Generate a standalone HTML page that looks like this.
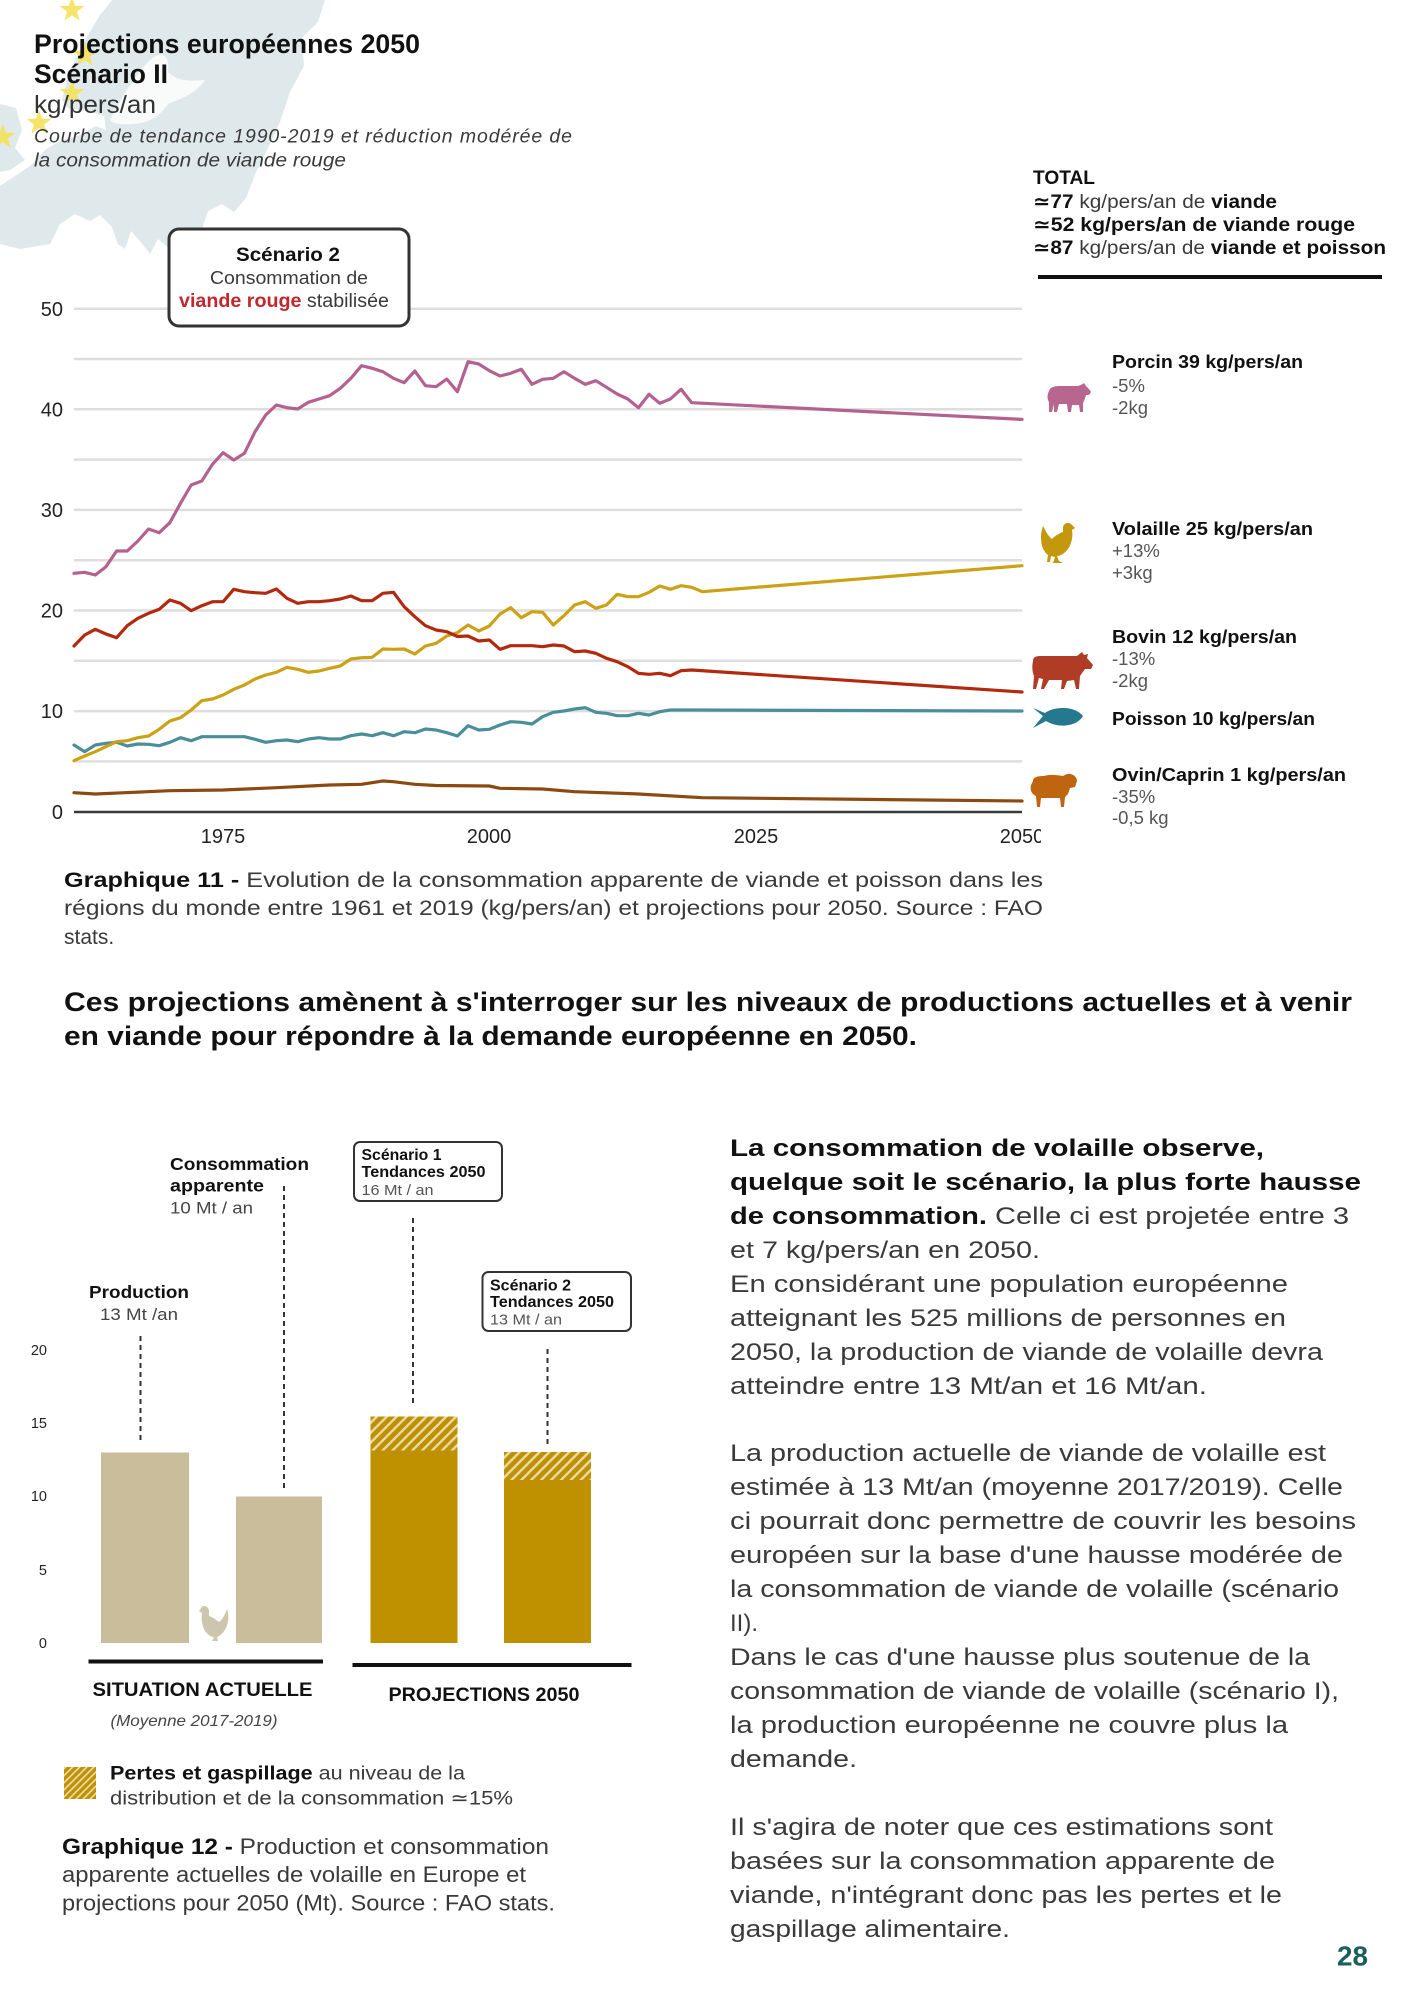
<!DOCTYPE html>
<html><head><meta charset="utf-8"><style>
html,body{margin:0;padding:0;background:#fff;}
svg{display:block;}
</style></head><body>
<svg xmlns="http://www.w3.org/2000/svg" width="1414" height="2000" viewBox="0 0 1414 2000" font-family="'Liberation Sans','DejaVu Sans',sans-serif">
<defs>
<polygon id="star" points="0,-13 3.12,-4.29 12.36,-4.02 5.04,1.64 7.64,10.52 0,5.3 -7.64,10.52 -5.04,1.64 -12.36,-4.02 -3.12,-4.29"/>
<pattern id="hatch" patternUnits="userSpaceOnUse" width="7" height="7" patternTransform="rotate(45)"><rect width="7" height="7" fill="#bf9000"/><rect x="0" y="0" width="2.4" height="7" fill="#eadba6"/></pattern>
<pattern id="hatch2" patternUnits="userSpaceOnUse" width="5" height="5" patternTransform="rotate(45)"><rect width="5" height="5" fill="#bf9000"/><rect x="0" y="0" width="1.7" height="5" fill="#eadba6"/></pattern>
<clipPath id="axclip"><rect x="0" y="820" width="1041" height="40"/></clipPath>
</defs>

<!-- Europe map background -->
<g fill="#dfe9ec">
<path d="M62,100 L70,70 L85,40 L100,15 L112,0 L325,0 L318,22 L302,38 L304,66 L290,92 L280,122 L268,148 L256,172 L246,198 L234,212 L222,204 L208,211 L202,229 L194,243 L182,235 L170,249 L158,239 L150,254 L140,241 L131,231 L125,249 L118,244 L112,227 L100,215 L90,221 L75,214 L60,224 L50,244 L20,249 L0,244 L0,186 L15,176 L30,166 L45,150 L60,141 L80,135 L96,126 L106,130 L104,116 L92,112 L80,110 L68,108 Z"/>
<path d="M0,104 L16,108 L22,130 L15,148 L25,160 L10,170 L0,172 Z"/>
</g>
<path d="M110,120 C120,100 133,78 148,62 C160,50 170,52 168,72 C180,84 196,80 205,80 C196,94 178,100 168,104 C160,116 148,124 132,124 C122,125 114,124 110,120 Z" fill="#ffffff" opacity="0.8"/>
<g fill="#f4e25a" opacity="0.9">
<use href="#star" x="72" y="10"/>
<use href="#star" x="85" y="55"/>
<use href="#star" x="72" y="93"/>
<use href="#star" x="39" y="123"/>
<use href="#star" x="3" y="137"/>
</g>

<!-- Title block -->
<text x="34" y="53" font-size="26.5" font-weight="700" fill="#111" textLength="386" lengthAdjust="spacingAndGlyphs">Projections européennes 2050</text>
<text x="34" y="83" font-size="26.5" font-weight="700" fill="#111" textLength="134" lengthAdjust="spacingAndGlyphs">Scénario II</text>
<text x="34" y="113" font-size="25" fill="#333" textLength="122" lengthAdjust="spacingAndGlyphs">kg/pers/an</text>
<text x="34" y="142.5" font-size="19.5" font-style="italic" fill="#3a3a3a" textLength="538" lengthAdjust="spacing">Courbe de tendance 1990-2019 et réduction modérée de</text>
<text x="34" y="166.5" font-size="19.5" font-style="italic" fill="#3a3a3a" textLength="312" lengthAdjust="spacingAndGlyphs">la consommation de viande rouge</text>

<!-- Chart 1 gridlines -->
<g stroke="#dedede" stroke-width="2.5">
<line x1="74" y1="308.7" x2="1022" y2="308.7"/>
<line x1="74" y1="359" x2="1022" y2="359"/>
<line x1="74" y1="409.3" x2="1022" y2="409.3"/>
<line x1="74" y1="459.6" x2="1022" y2="459.6"/>
<line x1="74" y1="509.9" x2="1022" y2="509.9"/>
<line x1="74" y1="560.2" x2="1022" y2="560.2"/>
<line x1="74" y1="610.5" x2="1022" y2="610.5"/>
<line x1="74" y1="660.8" x2="1022" y2="660.8"/>
<line x1="74" y1="711.1" x2="1022" y2="711.1"/>
<line x1="74" y1="761.4" x2="1022" y2="761.4"/>
</g>
<line x1="74" y1="812" x2="1022" y2="812" stroke="#3a3a3a" stroke-width="2.5"/>

<!-- Y labels -->
<g font-family="'Liberation Sans Narrow','Liberation Sans',sans-serif" font-size="20" fill="#222" text-anchor="end">
<text x="63" y="316">50</text>
<text x="63" y="416.5">40</text>
<text x="63" y="517">30</text>
<text x="63" y="617.5">20</text>
<text x="63" y="718">10</text>
<text x="63" y="819">0</text>
</g>
<!-- X labels -->
<g font-family="'Liberation Sans Narrow','Liberation Sans',sans-serif" font-size="20" fill="#222" text-anchor="middle" clip-path="url(#axclip)">
<text x="223" y="843">1975</text>
<text x="489" y="843">2000</text>
<text x="756" y="843">2025</text>
<text x="1022" y="843">2050</text>
</g>

<!-- Series -->
<g fill="none" stroke-width="3.2" stroke-linejoin="round" stroke-linecap="round">
<polyline stroke="#8a4a12" points="74,792.7 95.3,794 169.85,790.7 223.1,790 276.35,787.7 329.6,785 361.55,784.3 382.85,781 393.5,781.7 414.8,784.3 436.1,785.5 489.35,786 500,788.3 542.6,789 574.55,791.7 638.45,794 702.35,797.7 1022,801"/>
<polyline stroke="#4a8d9b" points="74,745 84.65,751.7 95.3,745 105.95,743.3 116.6,742.3 127.25,746 137.9,744 148.55,744.3 159.2,745.7 169.85,742.3 180.5,737.7 191.15,740.7 201.8,736.7 212.45,736.7 223.1,736.7 233.75,736.7 244.4,736.7 255.05,739.3 265.7,742.3 276.35,740.7 287,740 297.65,741.7 308.3,739 318.95,737.7 329.6,739 340.25,739 350.9,735.7 361.55,734 372.2,735.7 382.85,732.7 393.5,735.7 404.15,731.7 414.8,732.7 425.45,729 436.1,730 446.75,732.7 457.4,736 468.05,725.7 478.7,730 489.35,729.3 500,725 510.65,721.7 521.3,722.3 531.95,724 542.6,716.7 553.25,712.3 563.9,711 574.55,709 585.2,707.7 595.85,712.3 606.5,713.3 617.15,715.7 627.8,715.7 638.45,713.3 649.1,715 659.75,711.7 670.4,710 681.05,710 691.7,710 1022,711"/>
<polyline stroke="#cba215" points="74,760.7 84.65,756 95.3,751.7 105.95,746.7 116.6,741.7 127.25,740.7 137.9,737.7 148.55,736 159.2,729.3 169.85,721 180.5,717.7 191.15,710 201.8,700.7 212.45,699 223.1,695 233.75,689.3 244.4,685 255.05,679 265.7,675 276.35,672.3 287,667.3 297.65,669.3 308.3,672.3 318.95,671 329.6,668.3 340.25,666 350.9,659 361.55,657.7 372.2,657.3 382.85,649 393.5,649.3 404.15,649 414.8,654 425.45,646 436.1,643.3 446.75,636 457.4,632.7 468.05,625 478.7,631 489.35,626 500,614 510.65,607.7 521.3,617.7 531.95,611.7 542.6,612.3 553.25,625 563.9,615.7 574.55,605 585.2,601.7 595.85,608.3 606.5,605 617.15,594.3 627.8,596.7 638.45,596.7 649.1,592.3 659.75,586 670.4,589.3 681.05,585.7 691.7,587.3 702.35,591.7 1022,565.7"/>
<polyline stroke="#b3290e" points="74,646 84.65,635 95.3,629.3 105.95,634 116.6,637.7 127.25,625.7 137.9,618.3 148.55,613.3 159.2,609.3 169.85,600 180.5,603.3 191.15,610.7 201.8,605.7 212.45,601.7 223.1,601.7 233.75,589.3 244.4,591.7 255.05,592.7 265.7,593.3 276.35,589 287,598.3 297.65,603.3 308.3,601.7 318.95,601.7 329.6,600.7 340.25,599 350.9,596 361.55,600.7 372.2,600.7 382.85,593.3 393.5,592.3 404.15,606.7 414.8,616.7 425.45,625.7 436.1,630 446.75,631.7 457.4,636.5 468.05,636 478.7,641 489.35,640 500,649.3 510.65,645.7 521.3,645.7 531.95,645.7 542.6,646.7 553.25,645 563.9,646 574.55,651.7 585.2,651 595.85,653.3 606.5,658.3 617.15,661.7 627.8,666.7 638.45,673.3 649.1,674.3 659.75,673.3 670.4,675.7 681.05,670.7 691.7,670 1022,692"/>
<polyline stroke="#b4618f" points="74,573.3 84.65,572.3 95.3,575 105.95,566.7 116.6,551 127.25,551 137.9,541 148.55,529 159.2,532.7 169.85,522.7 180.5,503.3 191.15,485 201.8,481 212.45,464.3 223.1,452.7 233.75,460 244.4,453.3 255.05,431.7 265.7,415 276.35,405 287,407.7 297.65,409 308.3,402.3 318.95,399 329.6,395.7 340.25,388.3 350.9,378.3 361.55,365.7 372.2,368.3 382.85,371.7 393.5,378.3 404.15,382.7 414.8,371 425.45,385.7 436.1,386.7 446.75,379 457.4,391.7 468.05,361.7 478.7,364 489.35,370.7 500,376 510.65,373.3 521.3,369.3 531.95,384.3 542.6,379.3 553.25,378.3 563.9,371.7 574.55,378.3 585.2,384.3 595.85,380.7 606.5,387.3 617.15,394 627.8,399 638.45,407.7 649.1,394.3 659.75,403.3 670.4,399 681.05,389.3 691.7,402.7 1022,419.4"/>
</g>

<!-- Scenario 2 box -->
<rect x="169" y="229" width="240" height="97" rx="10" ry="10" fill="#fff" stroke="#333" stroke-width="3"/>
<text x="288" y="261" font-size="19" font-weight="700" fill="#111" text-anchor="middle" textLength="104" lengthAdjust="spacingAndGlyphs">Scénario 2</text>
<text x="289" y="284" font-size="18.5" fill="#3a3a3a" text-anchor="middle" textLength="158" lengthAdjust="spacingAndGlyphs">Consommation de</text>
<text x="179" y="307" font-size="19" fill="#3a3a3a" textLength="210" lengthAdjust="spacingAndGlyphs"><tspan font-weight="700" fill="#c0282d">viande rouge</tspan> stabilisée</text>

<!-- TOTAL block -->
<text x="1033" y="184" font-size="19.5" font-weight="700" fill="#111" textLength="62" lengthAdjust="spacingAndGlyphs">TOTAL</text>
<text x="1033" y="208" font-size="19.5" fill="#3a3a3a" textLength="244" lengthAdjust="spacingAndGlyphs"><tspan font-weight="700" fill="#111">≃77</tspan> kg/pers/an de <tspan font-weight="700" fill="#111">viande</tspan></text>
<text x="1033" y="231" font-size="19.5" font-weight="700" fill="#111" textLength="322" lengthAdjust="spacingAndGlyphs">≃52 kg/pers/an de viande rouge</text>
<text x="1033" y="254" font-size="19.5" fill="#3a3a3a" textLength="353" lengthAdjust="spacingAndGlyphs"><tspan font-weight="700" fill="#111">≃87</tspan> kg/pers/an de <tspan font-weight="700" fill="#111">viande et poisson</tspan></text>
<line x1="1038" y1="277" x2="1382" y2="277" stroke="#111" stroke-width="4"/>

<!-- Legend icons -->
<path fill="#b8668f" d="M1049,391 C1050,387 1055,386 1060,386 L1078,386 C1081,385 1083,384 1084,383 L1086,386 C1088,388 1090,390 1091,392 L1089,395 L1086,395 C1085,399 1084,401 1083,403 L1083,412 L1080,412 L1079,405 L1072,405 L1071,412 L1068,412 L1067,404 L1059,404 L1057,412 L1054,412 L1054,404 L1052,412 L1049,412 L1049,402 C1047,399 1047,395 1049,391 Z"/>
<path fill="#c4980c" d="M1043,526 C1046,532 1049,537 1052,539 C1056,535 1060,533 1063,532 L1063,527 C1064,523 1068,522 1071,524 L1075,528 L1072,530 C1073,536 1072,543 1068,549 C1064,554 1060,556 1057,556 L1059,561 L1063,563 L1053,563 L1055,557 L1051,556 L1050,562 L1047,562 L1048,555 C1044,552 1041,546 1041,538 C1041,533 1042,529 1043,526 Z"/>
<path fill="#b03c26" d="M1033,661 C1033,657 1036,656 1041,656 L1077,656 L1082,652 L1084,655 L1088,654 L1087,658 L1093,665 L1091,669 L1085,669 L1080,676 L1079,689 L1076,689 L1074,680 L1067,681 L1064,689 L1061,689 L1062,680 L1049,680 L1044,689 L1041,689 L1043,679 L1039,678 L1036,689 L1033,689 L1034,676 C1032,671 1032,666 1033,661 Z"/>
<path fill="#24788f" d="M1033,708 L1043,716 L1033,728 L1046,721 C1056,727 1068,727 1077,722 C1080,720 1082,718 1083,716 C1079,711 1072,708 1063,708 C1055,708 1049,710 1045,713 Z"/>
<path fill="#c0650f" d="M1033,781 C1033,777 1038,776 1044,776 C1050,774 1057,775 1063,776 L1067,774 C1073,773 1077,777 1077,781 L1075,787 L1070,788 L1068,794 L1065,797 L1064,807 L1061,807 L1060,798 L1041,798 L1040,807 L1037,807 L1036,796 C1031,794 1030,789 1031,785 Z"/>

<!-- Legend texts -->
<g font-size="18.5">
<text x="1112" y="368" font-weight="700" fill="#111" textLength="191" lengthAdjust="spacingAndGlyphs">Porcin 39 kg/pers/an</text>
<text x="1112" y="392" fill="#555">-5%</text>
<text x="1112" y="414" fill="#555">-2kg</text>
<text x="1112" y="535" font-weight="700" fill="#111" textLength="201" lengthAdjust="spacingAndGlyphs">Volaille 25 kg/pers/an</text>
<text x="1112" y="557" fill="#555">+13%</text>
<text x="1112" y="579" fill="#555">+3kg</text>
<text x="1112" y="643" font-weight="700" fill="#111" textLength="185" lengthAdjust="spacingAndGlyphs">Bovin 12 kg/pers/an</text>
<text x="1112" y="665" fill="#555">-13%</text>
<text x="1112" y="687" fill="#555">-2kg</text>
<text x="1112" y="725" font-weight="700" fill="#111" textLength="203" lengthAdjust="spacingAndGlyphs">Poisson 10 kg/pers/an</text>
<text x="1112" y="781" font-weight="700" fill="#111" textLength="234" lengthAdjust="spacingAndGlyphs">Ovin/Caprin 1 kg/pers/an</text>
<text x="1112" y="803" fill="#555">-35%</text>
<text x="1112" y="824" fill="#555">-0,5 kg</text>
</g>

<!-- Caption 11 -->
<g font-size="21" fill="#3a3a3a">
<text x="64" y="887" textLength="979" lengthAdjust="spacingAndGlyphs"><tspan font-weight="700" fill="#111">Graphique 11 -</tspan> Evolution de la consommation apparente de viande et poisson dans les</text>
<text x="64" y="915" textLength="979" lengthAdjust="spacingAndGlyphs">régions du monde entre 1961 et 2019 (kg/pers/an) et projections pour 2050. Source : FAO</text>
<text x="64" y="944">stats.</text>
</g>

<!-- Bold paragraph -->
<text x="64" y="1011" font-size="27" font-weight="700" fill="#111" textLength="1288" lengthAdjust="spacingAndGlyphs">Ces projections amènent à s'interroger sur les niveaux de productions actuelles et à venir</text>
<text x="64" y="1045" font-size="27" font-weight="700" fill="#111" textLength="853" lengthAdjust="spacingAndGlyphs">en viande pour répondre à la demande européenne en 2050.</text>

<!-- Bar chart -->
<g font-size="14.5" fill="#222" text-anchor="end">
<text x="47" y="1355">20</text>
<text x="47" y="1428">15</text>
<text x="47" y="1501">10</text>
<text x="47" y="1575">5</text>
<text x="47" y="1648">0</text>
</g>
<rect x="101" y="1452.5" width="88" height="190.5" fill="#cabd9c"/>
<rect x="236" y="1496.5" width="86" height="146.5" fill="#cabd9c"/>
<rect x="370.5" y="1416.5" width="87" height="226.5" fill="#bf9000"/>
<rect x="370.5" y="1416.5" width="87" height="34" fill="url(#hatch)"/>
<rect x="504" y="1452" width="87" height="191" fill="#bf9000"/>
<rect x="504" y="1452" width="87" height="28" fill="url(#hatch)"/>
<path fill="#cdc6ae" d="M227,1609 C225,1615 222,1620 219,1622 C215,1619 212,1617 209,1616 L209,1611 C208,1606 204,1605 202,1607 L199,1611 L202,1613 C201,1619 202,1626 205,1631 C208,1635 211,1637 214,1637 L212,1641 L218,1641 L217,1637 C222,1635 227,1629 228,1621 C229,1617 228,1612 227,1609 Z"/>

<g stroke="#333" stroke-width="2" stroke-dasharray="5,4">
<line x1="140.5" y1="1336" x2="140.5" y2="1443"/>
<line x1="284" y1="1186" x2="284" y2="1489"/>
<line x1="413" y1="1218" x2="413" y2="1407"/>
<line x1="547.5" y1="1349" x2="547.5" y2="1444"/>
</g>

<text x="89" y="1298" font-size="17.5" font-weight="700" fill="#111" textLength="100" lengthAdjust="spacingAndGlyphs">Production</text>
<text x="100" y="1320" font-size="17" fill="#444" textLength="78" lengthAdjust="spacingAndGlyphs">13 Mt /an</text>
<text x="170" y="1170" font-size="17.5" font-weight="700" fill="#111" textLength="139" lengthAdjust="spacingAndGlyphs">Consommation</text>
<text x="170" y="1191.5" font-size="17.5" font-weight="700" fill="#111" textLength="94" lengthAdjust="spacingAndGlyphs">apparente</text>
<text x="170" y="1213.5" font-size="17" fill="#444" textLength="83" lengthAdjust="spacingAndGlyphs">10 Mt / an</text>

<rect x="354" y="1142" width="148" height="59" rx="6" ry="6" fill="#fff" stroke="#333" stroke-width="2"/>
<text x="361.5" y="1160" font-size="15.5" font-weight="700" fill="#111" textLength="80" lengthAdjust="spacingAndGlyphs">Scénario 1</text>
<text x="361.5" y="1177" font-size="15.5" font-weight="700" fill="#111" textLength="124" lengthAdjust="spacingAndGlyphs">Tendances 2050</text>
<text x="361.5" y="1195" font-size="15" fill="#555" textLength="72" lengthAdjust="spacingAndGlyphs">16 Mt / an</text>

<rect x="482.5" y="1272" width="148.5" height="59" rx="6" ry="6" fill="#fff" stroke="#333" stroke-width="2"/>
<text x="490" y="1290.5" font-size="15.5" font-weight="700" fill="#111" textLength="81" lengthAdjust="spacingAndGlyphs">Scénario 2</text>
<text x="490" y="1307" font-size="15.5" font-weight="700" fill="#111" textLength="124" lengthAdjust="spacingAndGlyphs">Tendances 2050</text>
<text x="490" y="1324.5" font-size="15" fill="#555" textLength="72" lengthAdjust="spacingAndGlyphs">13 Mt / an</text>

<line x1="88.5" y1="1661.5" x2="323" y2="1661.5" stroke="#111" stroke-width="4"/>
<line x1="352.5" y1="1665" x2="631.5" y2="1665" stroke="#111" stroke-width="4"/>
<text x="92.5" y="1696" font-size="19" font-weight="700" fill="#111" textLength="220" lengthAdjust="spacingAndGlyphs">SITUATION ACTUELLE</text>
<text x="110.5" y="1726" font-size="16" font-style="italic" fill="#444" textLength="167" lengthAdjust="spacingAndGlyphs">(Moyenne 2017-2019)</text>
<text x="388.5" y="1701" font-size="19" font-weight="700" fill="#111" textLength="191" lengthAdjust="spacingAndGlyphs">PROJECTIONS 2050</text>

<rect x="64" y="1767" width="32" height="32" fill="url(#hatch2)"/>
<text x="110" y="1779.5" font-size="19.5" fill="#3a3a3a" textLength="355" lengthAdjust="spacingAndGlyphs"><tspan font-weight="700" fill="#111">Pertes et gaspillage</tspan> au niveau de la</text>
<text x="110" y="1804.5" font-size="19.5" fill="#3a3a3a" textLength="403" lengthAdjust="spacingAndGlyphs">distribution et de la consommation ≃15%</text>

<g font-size="22" fill="#3a3a3a">
<text x="62" y="1854" textLength="487" lengthAdjust="spacingAndGlyphs"><tspan font-weight="700" fill="#111">Graphique 12 -</tspan> Production et consommation</text>
<text x="62" y="1882" textLength="464" lengthAdjust="spacingAndGlyphs">apparente actuelles de volaille en Europe et</text>
<text x="62" y="1910.5" textLength="493" lengthAdjust="spacingAndGlyphs">projections pour 2050 (Mt). Source : FAO stats.</text>
</g>

<!-- Right column -->
<g font-size="24" fill="#3a3a3a">
<text x="730" y="1156" font-weight="700" fill="#111" textLength="534" lengthAdjust="spacingAndGlyphs">La consommation de volaille observe,</text>
<text x="730" y="1190" font-weight="700" fill="#111" textLength="631" lengthAdjust="spacingAndGlyphs">quelque soit le scénario, la plus forte hausse</text>
<text x="730" y="1224" textLength="619" lengthAdjust="spacingAndGlyphs"><tspan font-weight="700" fill="#111">de consommation.</tspan> Celle ci est projetée entre 3</text>
<text x="730" y="1258" textLength="310" lengthAdjust="spacingAndGlyphs">et 7 kg/pers/an en 2050.</text>
<text x="730" y="1292" textLength="558" lengthAdjust="spacingAndGlyphs">En considérant une population européenne</text>
<text x="730" y="1326" textLength="556" lengthAdjust="spacingAndGlyphs">atteignant les 525 millions de personnes en</text>
<text x="730" y="1360" textLength="593" lengthAdjust="spacingAndGlyphs">2050, la production de viande de volaille devra</text>
<text x="730" y="1394" textLength="477" lengthAdjust="spacingAndGlyphs">atteindre entre 13 Mt/an et 16 Mt/an.</text>
<text x="730" y="1461" textLength="596" lengthAdjust="spacingAndGlyphs">La production actuelle de viande de volaille est</text>
<text x="730" y="1495" textLength="613" lengthAdjust="spacingAndGlyphs">estimée à 13 Mt/an (moyenne 2017/2019). Celle</text>
<text x="730" y="1529" textLength="626" lengthAdjust="spacingAndGlyphs">ci pourrait donc permettre de couvrir les besoins</text>
<text x="730" y="1563" textLength="613" lengthAdjust="spacingAndGlyphs">européen sur la base d'une hausse modérée de</text>
<text x="730" y="1597" textLength="609" lengthAdjust="spacingAndGlyphs">la consommation de viande de volaille (scénario</text>
<text x="730" y="1631">II).</text>
<text x="730" y="1665" textLength="580" lengthAdjust="spacingAndGlyphs">Dans le cas d'une hausse plus soutenue de la</text>
<text x="730" y="1699" textLength="609" lengthAdjust="spacingAndGlyphs">consommation de viande de volaille (scénario I),</text>
<text x="730" y="1733" textLength="558" lengthAdjust="spacingAndGlyphs">la production européenne ne couvre plus la</text>
<text x="730" y="1767" textLength="127" lengthAdjust="spacingAndGlyphs">demande.</text>
<text x="730" y="1835" textLength="543" lengthAdjust="spacingAndGlyphs">Il s'agira de noter que ces estimations sont</text>
<text x="730" y="1869" textLength="545" lengthAdjust="spacingAndGlyphs">basées sur la consommation apparente de</text>
<text x="730" y="1903" textLength="552" lengthAdjust="spacingAndGlyphs">viande, n'intégrant donc pas les pertes et le</text>
<text x="730" y="1937" textLength="280" lengthAdjust="spacingAndGlyphs">gaspillage alimentaire.</text>
</g>

<text x="1337" y="1965.5" font-size="28" font-weight="700" fill="#1b5e5b" textLength="31" lengthAdjust="spacingAndGlyphs">28</text>
</svg>
</body></html>
